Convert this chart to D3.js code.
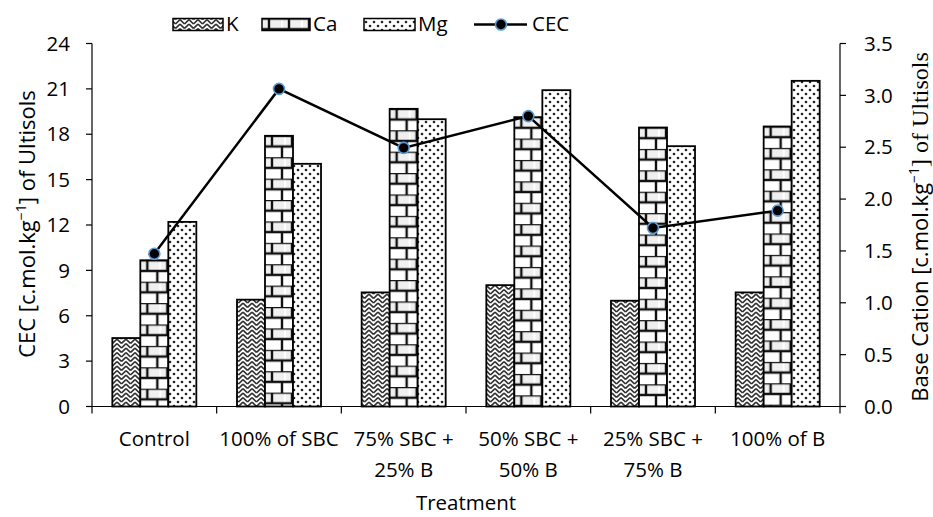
<!DOCTYPE html>
<html><head><meta charset="utf-8">
<script src="https://cdn.jsdelivr.net/npm/d3@7"></script>
<style>body{margin:0;background:#fff}svg{display:block}</style>
</head><body><svg id="c" width="933" height="517"></svg>
<script>
const categories = [["Control"],["100% of SBC"],["75% SBC +","25% B"],["50% SBC +","50% B"],["25% SBC +","75% B"],["100% of B"]];
const catKeys = ["Control","100% of SBC","75% SBC + 25% B","50% SBC + 50% B","25% SBC + 75% B","100% of B"];
const seriesNames = ["K","Ca","Mg"];
const K  = [0.66, 1.03, 1.10, 1.17, 1.02, 1.10];
const Ca = [1.41, 2.61, 2.87, 2.79, 2.69, 2.70];
const Mg = [1.78, 2.34, 2.77, 3.05, 2.51, 3.14];
const CEC = [10.1, 21.0, 17.1, 19.2, 11.8, 12.95];
const leftTicks = [0,3,6,9,12,15,18,21,24];
const rightTicks = [0,0.5,1.0,1.5,2.0,2.5,3.0,3.5];

const FONT = "'Open Sans', sans-serif";
const FS = 20.5;
const svg = d3.select("#c");
const L = 92, R = 840, T = 43.5, B = 406.5;

const x = d3.scaleBand().domain(catKeys).range([L, R]).paddingInner(0.326).paddingOuter(0.163);
const xs = d3.scaleBand().domain(seriesNames).range([0, x.bandwidth()]);
const yL = d3.scaleLinear().domain([0, 24]).range([B, T]);
const yR = d3.scaleLinear().domain([0, 3.5]).range([B, T]);

const defs = svg.append("defs");
const pk = defs.append("pattern").attr("id","pK").attr("patternUnits","userSpaceOnUse").attr("width",9).attr("height",9);
pk.append("rect").attr("width",9).attr("height",9).attr("fill","#fff");
pk.append("path").attr("d","M0,1.5 L4.5,6 M0,-3 L4.5,1.5 M0,6 L4.5,10.5 M4.5,6 L9,1.5 M4.5,1.5 L9,-3 M4.5,10.5 L9,6")
  .attr("stroke","#333").attr("stroke-width",1.7).attr("fill","none");
const pm = defs.append("pattern").attr("id","pMg").attr("patternUnits","userSpaceOnUse").attr("width",8).attr("height",8);
pm.append("rect").attr("width",8).attr("height",8).attr("fill","#fff");
pm.append("circle").attr("cx",2).attr("cy",2).attr("r",1.3).attr("fill","#222");
pm.append("circle").attr("cx",6).attr("cy",6).attr("r",1.3).attr("fill","#222");

function brickPattern(id, x0, y0) {
  const p = defs.append("pattern").attr("id", id).attr("patternUnits","userSpaceOnUse")
    .attr("x", x0).attr("y", y0).attr("width", 20).attr("height", 21.4);
  p.append("rect").attr("width",20).attr("height",21.4).attr("fill","#fff");
  p.append("rect").attr("x",1).attr("y",1).attr("width",18).attr("height",9).attr("fill","#f0f0f0");
  p.append("path").attr("d","M0,0 H20 M0,10.7 H20 M7,0 V10.7 M17,10.7 V21.4")
    .attr("stroke","#111").attr("stroke-width",2.4).attr("fill","none");
}

const data = catKeys.map((c,i)=>({cat:c, vals:[{s:"K",v:K[i]},{s:"Ca",v:Ca[i]},{s:"Mg",v:Mg[i]}]}));

const g = svg.append("g");
data.forEach((d,i)=>{
  d.vals.forEach(e=>{
    const bx = x(d.cat)+xs(e.s), by = yR(e.v);
    let fill;
    if (e.s==="K") fill="url(#pK)";
    else if (e.s==="Mg") fill="url(#pMg)";
    else { const id="pCa"+i; brickPattern(id, bx, by); fill="url(#"+id+")"; }
    g.append("rect").attr("x",bx).attr("y",by).attr("width",xs.bandwidth()).attr("height",B-by)
      .attr("fill",fill).attr("stroke","#000").attr("stroke-width",1.8);
  });
});

const ax = svg.append("g").attr("stroke","#000").attr("stroke-width",1.2);
ax.append("line").attr("x1",L).attr("x2",L).attr("y1",T).attr("y2",B);
ax.append("line").attr("x1",R).attr("x2",R).attr("y1",T).attr("y2",B);
ax.append("line").attr("x1",L-6).attr("x2",R+6).attr("y1",B).attr("y2",B);
leftTicks.forEach(t=>ax.append("line").attr("x1",L-6).attr("x2",L).attr("y1",yL(t)).attr("y2",yL(t)));
rightTicks.forEach(t=>ax.append("line").attr("x1",R).attr("x2",R+6).attr("y1",yR(t)).attr("y2",yR(t)));
const bounds = catKeys.map(c=>x(c)-x.step()*x.paddingInner()/2).concat([R]);
bounds.forEach(b=>ax.append("line").attr("x1",b).attr("x2",b).attr("y1",B).attr("y2",B+7));

const txt = svg.append("g").attr("font-family",FONT).attr("font-size",FS).attr("fill","#000");
leftTicks.forEach(t=>txt.append("text").attr("x",70).attr("y",yL(t)).attr("dy","0.35em").attr("text-anchor","end").text(t));
rightTicks.forEach(t=>txt.append("text").attr("x",864).attr("y",yR(t)).attr("dy","0.35em").text(t.toFixed(1)));
categories.forEach((lines,i)=>{
  const cx = x(catKeys[i])+x.bandwidth()/2;
  lines.forEach((ln,j)=>txt.append("text").attr("x",cx).attr("y",446+j*31).attr("text-anchor","middle").text(ln));
});
txt.append("text").attr("x",(L+R)/2).attr("y",510).attr("text-anchor","middle").text("Treatment");

const lt = txt.append("text").attr("transform","translate(35,224) rotate(-90)").attr("text-anchor","middle").attr("font-size",22);
lt.append("tspan").text("CEC [c.mol.kg");
lt.append("tspan").attr("font-size",14).attr("dy",-9).text("\u22121");
lt.append("tspan").attr("dy",9).text("] of Ultisols");
const rt = txt.append("text").attr("transform","translate(928,227) rotate(-90)").attr("text-anchor","middle").attr("font-size",22);
rt.append("tspan").text("Base Cation [c.mol.kg");
rt.append("tspan").attr("font-size",14).attr("dy",-9).text("\u22121");
rt.append("tspan").attr("dy",9).attr("font-family","'Liberation Serif', serif").attr("font-size",24).text("] of Ultisols");

const line = d3.line().x((d,i)=>x(catKeys[i])+x.bandwidth()/2).y(d=>yL(d));
svg.append("path").datum(CEC).attr("d",line).attr("fill","none").attr("stroke","#000").attr("stroke-width",2.5);
svg.selectAll(".pt").data(CEC).enter().append("circle")
  .attr("cx",(d,i)=>x(catKeys[i])+x.bandwidth()/2).attr("cy",d=>yL(d)).attr("r",5.5)
  .attr("fill","#000").attr("stroke","#5b9bd5").attr("stroke-width",1.6);

const lg = svg.append("g");
const legItems = [{s:"K",x:173,w:50,fill:"url(#pK)"},{s:"Ca",x:262,w:48},{s:"Mg",x:364,w:51,fill:"url(#pMg)"}];
legItems.forEach(it=>{
  if (it.s==="Ca") { brickPattern("pCaLeg", it.x, 18.5); it.fill="url(#pCaLeg)"; }
  lg.append("rect").attr("x",it.x).attr("y",18.5).attr("width",it.w).attr("height",12).attr("fill",it.fill).attr("stroke","#000").attr("stroke-width",1.5);
  lg.append("text").attr("x",it.x+it.w+3).attr("y",31).attr("font-family",FONT).attr("font-size",FS).attr("fill","#000").text(it.s);
});
lg.append("line").attr("x1",474).attr("x2",527).attr("y1",24.5).attr("y2",24.5).attr("stroke","#000").attr("stroke-width",2.5);
lg.append("circle").attr("cx",501).attr("cy",24.5).attr("r",5.5).attr("fill","#000").attr("stroke","#5b9bd5").attr("stroke-width",1.6);
lg.append("text").attr("x",532).attr("y",31).attr("font-family",FONT).attr("font-size",FS).attr("fill","#000").text("CEC");
</script></body></html>
